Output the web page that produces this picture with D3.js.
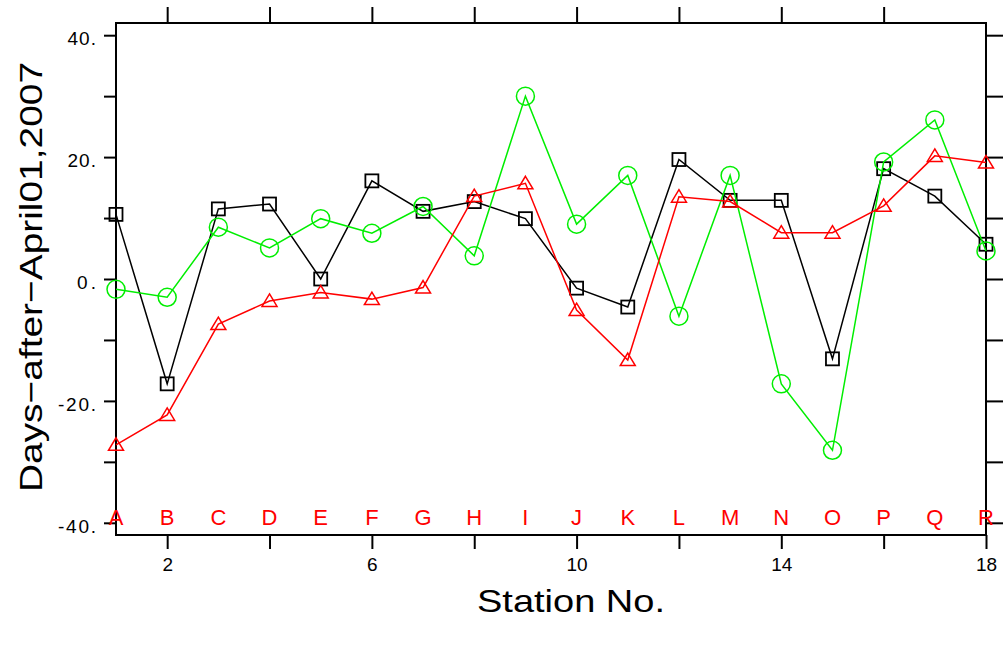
<!DOCTYPE html>
<html>
<head>
<meta charset="utf-8">
<script src="https://cdn.jsdelivr.net/npm/d3@7"></script>
<style>
  body { margin: 0; background: #fff; }
  svg { display: block; font-family: "Liberation Sans", Arial, sans-serif; }
</style>
</head>
<body>
<div id="chart"></div>
<script>
const stations = d3.range(1, 19);
const stationLetters = ["A","B","C","D","E","F","G","H","I","J","K","L","M","N","O","P","Q","R"];

const blackSeries = [10.6, -17.2, 11.5, 12.3, 0.0, 16.1, 11.1, 12.7, 9.9, -1.5, -4.6, 19.6, 12.9, 12.9, -13.1, 18.1, 13.6, 5.7];
const greenSeries = [-1.7, -3.0, 8.5, 5.1, 9.9, 7.5, 11.9, 3.8, 30.0, 9.0, 17.0, -6.1, 17.0, -17.2, -28.1, 19.2, 26.1, 4.6];
const redSeries   = [-27.2, -22.3, -7.4, -3.6, -2.2, -3.3, -1.4, 13.6, 15.7, -5.1, -13.3, 13.5, 12.7, 7.6, 7.6, 12.0, 20.2, 19.1];

const yTickValues = [-40, -30, -20, -10, 0, 10, 20, 30, 40];
const yTickLabels = { "-40": "-40.", "-20": "-20.", "0": "0.", "20": "20.", "40": "40." };
const xTickValues = [2, 4, 6, 8, 10, 12, 14, 16, 18];
const xTickLabels = { 2: "2", 6: "6", 10: "10", 14: "14", 18: "18" };

const W = 1003, H = 646;
const plot = { left: 116, right: 986, top: 23, bottom: 535 };

const svg = d3.select("#chart").append("svg").attr("width", W).attr("height", H);

const x = d3.scaleLinear().domain([1, 18]).range([plot.left, plot.right]);
const y = d3.scaleLinear().domain([-42, 42]).range([plot.bottom, plot.top]);

// axes
const axisLeft = d3.axisLeft(y).tickValues(yTickValues).tickSize(12).tickPadding(8)
  .tickFormat(d => yTickLabels[d] || "");
const axisRight = d3.axisRight(y).tickValues(yTickValues).tickSize(18).tickFormat("");
const axisBottom = d3.axisBottom(x).tickValues(xTickValues).tickSize(14).tickPadding(9)
  .tickFormat(d => xTickLabels[d] || "");
const axisTop = d3.axisTop(x).tickValues(xTickValues.slice(0, -1)).tickSize(16).tickFormat("");

function style(g) {
  g.attr("font-size", 19).attr("font-family", "Liberation Sans, Arial, sans-serif");
  g.select(".domain").remove();
  g.selectAll(".tick line").attr("stroke", "#000").attr("stroke-width", 2);
  g.selectAll(".tick text").attr("fill", "#000");
}

svg.append("g").attr("transform", `translate(${plot.left},0)`).call(axisLeft).call(style)
  .selectAll(".tick text").attr("dy", "0.5em").attr("textLength", function () {
    return this.textContent.length * 9.5;
  });
svg.append("g").attr("transform", `translate(${plot.right},0)`).call(axisRight).call(style);
svg.append("g").attr("transform", `translate(0,${plot.bottom})`).call(axisBottom).call(style);
svg.append("g").attr("transform", `translate(0,${plot.top})`).call(axisTop).call(style);

svg.append("rect")
  .attr("x", plot.left).attr("y", plot.top)
  .attr("width", plot.right - plot.left).attr("height", plot.bottom - plot.top)
  .attr("fill", "none").attr("stroke", "#000").attr("stroke-width", 2);

// station letters
svg.append("g").selectAll("text").data(stationLetters).join("text")
  .attr("x", (d, i) => x(stations[i]))
  .attr("y", 525)
  .attr("text-anchor", "middle")
  .attr("fill", "#ff0000")
  .attr("font-size", 22)
  .text(d => d);

const line = d3.line().x((d, i) => x(stations[i])).y(d => y(d));

const series = [
  { values: blackSeries, color: "#000000", marker: "square" },
  { values: greenSeries, color: "#00ee00", marker: "circle" },
  { values: redSeries, color: "#ff0000", marker: "triangle" }
];

series.forEach(s => {
  svg.append("path").datum(s.values)
    .attr("d", line)
    .attr("fill", "none")
    .attr("stroke", s.color)
    .attr("stroke-width", 1.5);

  const g = svg.append("g");
  const pts = s.values.map((v, i) => [x(stations[i]), y(v)]);
  if (s.marker === "square") {
    g.selectAll("rect").data(pts).join("rect")
      .attr("x", d => d[0] - 6.5).attr("y", d => d[1] - 6.5)
      .attr("width", 13).attr("height", 13)
      .attr("fill", "none").attr("stroke", s.color).attr("stroke-width", 1.8);
  } else if (s.marker === "circle") {
    g.selectAll("circle").data(pts).join("circle")
      .attr("cx", d => d[0]).attr("cy", d => d[1]).attr("r", 9)
      .attr("fill", "none").attr("stroke", s.color).attr("stroke-width", 1.5);
  } else {
    g.selectAll("path").data(pts).join("path")
      .attr("d", d => `M${d[0]},${d[1] - 7}L${d[0] + 7.5},${d[1] + 5.5}L${d[0] - 7.5},${d[1] + 5.5}Z`)
      .attr("fill", "none").attr("stroke", s.color).attr("stroke-width", 1.5);
  }
});

// titles
svg.append("text")
  .attr("transform", `translate(42,${(plot.top + plot.bottom) / 2 - 2}) rotate(-90)`)
  .attr("text-anchor", "middle")
  .attr("fill", "#000")
  .attr("textLength", 430)
  .attr("lengthAdjust", "spacingAndGlyphs")
  .attr("font-size", 32)
  .text("Days\u2212after\u2212April01,2007");

svg.append("text")
  .attr("x", 571).attr("y", 612)
  .attr("text-anchor", "middle")
  .attr("fill", "#000")
  .attr("textLength", 188)
  .attr("lengthAdjust", "spacingAndGlyphs")
  .attr("font-size", 32)
  .text("Station No.");
</script>
</body>
</html>
